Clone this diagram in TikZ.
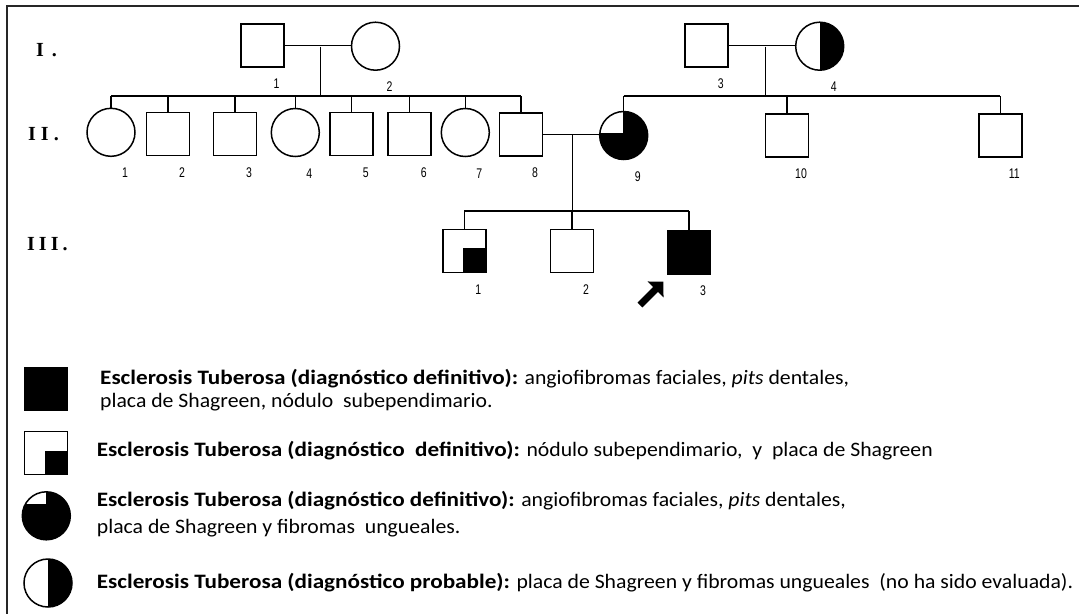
\documentclass[tikz,border=0pt]{standalone}
\usepackage{fontspec}
\setmainfont{Carlito}[FakeStretch=1.06,BoldFeatures={FakeStretch=1.13}]
\newfontfamily\numfont[FakeStretch=0.75]{Liberation Sans}
\newfontfamily\genfont{Liberation Serif}
\usetikzlibrary{arrows.meta,positioning}

\begin{document}
\begin{tikzpicture}[x=1pt,y=-1pt,label distance=11pt]
\tikzstyle{male}=[rectangle, minimum size = 43pt, inner sep=0pt, draw=black, line width=1.5pt, fill=white]
\tikzstyle{female}=[circle, minimum size = 48pt, inner sep=0pt, draw=black, line width=1.5pt, fill=white]
\tikzstyle{num}=[font=\numfont\fontsize{14}{14}\selectfont, inner sep=0pt, xshift=14pt]
\tikzstyle{gen}=[font=\genfont\bfseries\fontsize{20}{20}\selectfont, inner sep=0pt, anchor=west]
\tikzstyle{line}=[line width=1.5pt]
\tikzstyle{legtext}=[anchor=base west, inner sep=0pt, font=\fontsize{20.5}{24}\selectfont]
\useasboundingbox (0,0) rectangle (1079,614);
\draw[line width=1.8pt, black!85] (1079,5.7) -- (7.3,5.7) -- (7.3,614);

% generation labels
\node[gen] (gI) at (36,50) {I\hspace{8pt}.};
\node[gen] (gII) at (28,134) {I\hspace{5pt}I\hspace{5pt}.};
\node[gen] (gIII) at (27,244) {I\hspace{4pt}I\hspace{4pt}I\hspace{4pt}.};

% generation I
\node[male] (I1) at (262.5,45.5) [label={[num]below:1}] {};
\node[female] (I2) at (375.5,46.2) [label={[num]below:2}] {};
\node[male] (I3) at (706.7,45.5) [label={[num]below:3}] {};
\node[female] (I4) at (819.7,46.2) [label={[num]below:4},
  path picture={\fill[black] (path picture bounding box.north) rectangle (path picture bounding box.south east);}] {};

% generation II
\node[female] (II1) at (111,132.3) [label={[num]below:1}] {};
\node[male] (II2) at (168,134) [label={[num]below:2}] {};
\node[male] (II3) at (235,134) [label={[num]below:3}] {};
\node[female] (II4) at (295.3,132.5) [label={[num]below:4}] {};
\node[male] (II5) at (351.7,134) [label={[num]below:5}] {};
\node[male] (II6) at (409.7,134) [label={[num]below:6}] {};
\node[female] (II7) at (465.3,132.5) [label={[num]below:7}] {};
\node[male] (II8) at (521,134.5) [label={[num]below:8}] {};
\node[female, fill=black] (II9) at (623.7,135.5) [label={[num]below:9},
  path picture={\fill[white] (path picture bounding box.north west) rectangle ([shift={(-1pt,3pt)}]path picture bounding box.center);}] {};
\node[male] (II10) at (787,135.3) [label={[num]below:10}] {};
\node[male] (II11) at (1000.3,135.3) [label={[num]below:11}] {};

% generation III
\node[male] (III1) at (464.3,251) [label={[num]below:1},
  path picture={\fill[black] ([shift={(-1.5pt,3pt)}]path picture bounding box.center) rectangle (path picture bounding box.south east);}] {};
\node[male] (III2) at (572,251) [label={[num]below:2}] {};
\node[male, fill=black] (III3) at (689,252.5) [label={[num]below:3}] {};

% marriages and sibships
\draw[line] (I1.east) -- (I1.east -| I2.west);
\draw[line] (I3.east) -- (I3.east -| I4.west);
\draw[line] (II8.east) -- (II8.east -| II9.west);
\coordinate (d1) at (320.7,46.7);
\coordinate (s1) at (320.7,96);
\coordinate (d2) at (765.7,46.7);
\coordinate (s2) at (765.7,96);
\coordinate (d3) at (572.3,134.5);
\coordinate (s3) at (572.3,211);
\draw[line] (d1) -- (s1);
\draw[line] (d2) -- (s2);
\draw[line] (d3) -- (s3);
\draw[line] (II1.north |- s1) -- (II8.north |- s1);
\draw[line] (II9.north |- s2) -- (II11.north |- s2);
\draw[line] (III1.north |- s3) -- (III3.north |- s3);
\foreach \c in {II1,II2,II3,II4,II5,II6,II7,II8}
  \draw[line] (\c.north) -- (\c.north |- s1);
\foreach \c in {II9,II10,II11}
  \draw[line] (\c.north) -- (\c.north |- s2);
\foreach \c in {III1,III2,III3}
  \draw[line] (\c.north) -- (\c.north |- s3);

% proband
\coordinate (ptail) at (640,305);
\coordinate (ptip) at (663.3,281.7);
\draw[line width=7pt, -{Triangle[width=22pt,length=11pt]}] (ptail) -- (ptip);

% legend
\node[male, fill=black] (lg1) at (45.8,388.8) {};
\node[male] (lg2) at (45.8,452.8)
  [path picture={\fill[black] ([shift={(-0.8pt,2pt)}]path picture bounding box.center) rectangle (path picture bounding box.south east);}] {};
\node[female, fill=black] (lg3) at (46.3,515.8)
  [path picture={\fill[white] (path picture bounding box.north west) rectangle ([shift={(-0.6pt,11.8pt)}]path picture bounding box.center);}] {};
\node[female] (lg4) at (48,583)
  [path picture={\fill[black] (path picture bounding box.north) rectangle (path picture bounding box.south east);}] {};

\node[legtext] (lg1a) at (100,384) {\textbf{Esclerosis Tuberosa (diagnóstico definitivo):} angiofibromas faciales, \textit{pits} dentales,};
\node[legtext] (lg1b) at (100,407.5) {placa de Shagreen, nódulo\ \ subependimario.};
\node[legtext] (lg2t) at (96.7,456.5) {\textbf{Esclerosis Tuberosa (diagnóstico\ \ definitivo):} nódulo subependimario,\ \ y\ \ placa de Shagreen};
\node[legtext] (lg3a) at (96.7,506) {\textbf{Esclerosis Tuberosa (diagnóstico definitivo):} angiofibromas faciales, \textit{pits} dentales,};
\node[legtext] (lg3b) at (96.7,533.5) {placa de Shagreen y fibromas\ \ ungueales.};
\node[legtext] (lg4t) at (96.7,588.5) {\textbf{Esclerosis Tuberosa (diagnóstico probable):} placa de Shagreen y fibromas ungueales\ \ (no ha sido evaluada).};
\end{tikzpicture}
\end{document}
